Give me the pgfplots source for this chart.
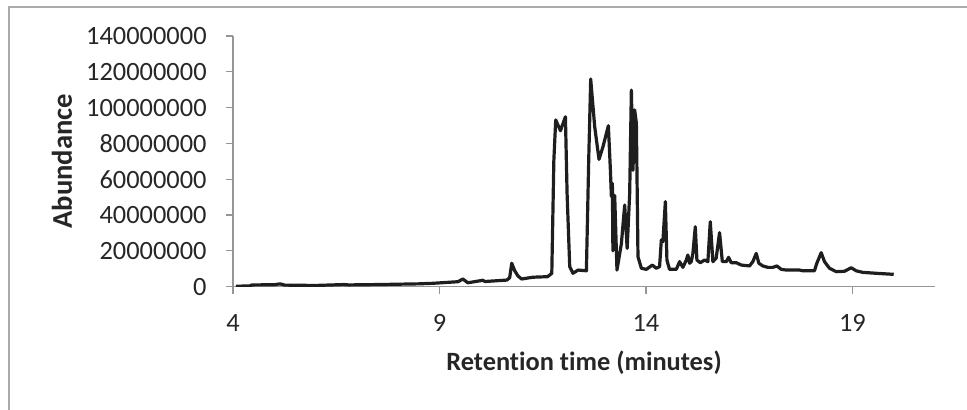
\documentclass[border=0pt]{standalone}
\usepackage{pgfplots}
\pgfplotsset{compat=1.18}
\usepackage{fontspec}
\setmainfont{Carlito}[Ligatures={NoCommon}]
\definecolor{axisgray}{RGB}{150,150,150}
\definecolor{framegray}{RGB}{170,170,170}
\definecolor{curve}{RGB}{30,30,30}
\begin{document}
\begin{tikzpicture}
\useasboundingbox (-116.5pt,-61.15pt) rectangle (367pt,143.35pt);
\draw[framegray, line width=0.8pt] (-112pt,-62pt) -- (-112pt,139.85pt) -- (368pt,139.85pt);
\begin{axis}[
  at={(0,0)}, anchor=south west,
  scale only axis, width=351pt, height=125.35pt,
  xmin=4, xmax=21, ymin=0, ymax=140e6,
  xtick={4,9,14,19},
  ytick={0,20e6,40e6,60e6,80e6,100e6,120e6,140e6},
  yticklabels={0,20000000,40000000,60000000,80000000,100000000,120000000,140000000},
  scaled y ticks=false,
  axis x line*=bottom, axis y line*=left,
  axis line style={draw=axisgray, line width=0.6pt, -},
  tick style={draw=axisgray, line width=0.6pt},
  tick align=outside, major tick length=3.5pt,
  /pgf/number format/assume math mode=true,
  ticklabel style={font=\fontsize{13.2}{15}\selectfont, text=black!85},
  yticklabel style={anchor=east, inner sep=0pt, xshift=-9.5pt},
  xticklabel style={anchor=north, inner sep=0pt, yshift=-10pt},
  every axis x label/.style={at={(axis description cs:0.5,-0.305)}, anchor=center, font=\fontsize{13.2}{15}\selectfont\bfseries},
  every axis y label/.style={at={(axis description cs:-0.2436,0.5)}, rotate=90, anchor=center, font=\fontsize{14.3}{16}\selectfont\bfseries},
  label style={text=black!85},
  xlabel={Retention time (minutes)},
  ylabel={Abundance},
]
\addplot[curve, line width=1.6pt, line join=round] table[row sep=\\] {
x y \\
4.07 0.3e6 \\
4.40 0.4e6 \\
4.46 1.0e6 \\
5.00 1.1e6 \\
5.14 1.6e6 \\
5.25 0.9e6 \\
6.00 0.7e6 \\
6.69 1.2e6 \\
6.80 1.0e6 \\
7.50 1.2e6 \\
8.00 1.4e6 \\
8.50 1.6e6 \\
8.84 1.9e6 \\
9.18 2.4e6 \\
9.45 2.8e6 \\
9.565 4.3e6 \\
9.686 2.2e6 \\
9.90 3.0e6 \\
10.05 3.6e6 \\
10.10 2.9e6 \\
10.63 3.7e6 \\
10.70 5.0e6 \\
10.75 13.1e6 \\
10.82 9.0e6 \\
10.90 6.0e6 \\
10.99 4.3e6 \\
11.26 5.3e6 \\
11.62 5.6e6 \\
11.72 7.5e6 \\
11.77 70.7e6 \\
11.815 93.1e6 \\
11.93 87.1e6 \\
12.05 94.9e6 \\
12.09 52.3e6 \\
12.154 11.2e6 \\
12.234 7.5e6 \\
12.355 9.3e6 \\
12.558 8.9e6 \\
12.614 70.7e6 \\
12.662 116.0e6 \\
12.759 89.3e6 \\
12.863 71.1e6 \\
12.96 78.2e6 \\
13.09 89.9e6 \\
13.139 65.2e6 \\
13.163 50.3e6 \\
13.187 57.7e6 \\
13.20 20.0e6 \\
13.243 51.0e6 \\
13.298 9.3e6 \\
13.405 24.0e6 \\
13.485 45.6e6 \\
13.545 21.4e6 \\
13.606 52.0e6 \\
13.647 109.8e6 \\
13.686 65.0e6 \\
13.727 98.7e6 \\
13.768 91.4e6 \\
13.807 16.75e6 \\
13.889 10.3e6 \\
14.01 9.7e6 \\
14.155 12.1e6 \\
14.25 10.3e6 \\
14.33 11.2e6 \\
14.373 26.1e6 \\
14.41 25.1e6 \\
14.47 47.5e6 \\
14.508 14.9e6 \\
14.57 9.7e6 \\
14.735 9.7e6 \\
14.815 14.0e6 \\
14.895 10.8e6 \\
14.977 14.9e6 \\
15.015 17.7e6 \\
15.057 13.1e6 \\
15.098 14.0e6 \\
15.137 18.6e6 \\
15.195 33.5e6 \\
15.234 14.9e6 \\
15.316 13.4e6 \\
15.42 14.9e6 \\
15.50 14.0e6 \\
15.558 36.3e6 \\
15.621 14.0e6 \\
15.70 15.9e6 \\
15.783 30.2e6 \\
15.85 14.0e6 \\
15.945 14.0e6 \\
16.001 16.4e6 \\
16.066 13.4e6 \\
16.187 13.4e6 \\
16.308 12.1e6 \\
16.509 11.6e6 \\
16.589 14.0e6 \\
16.671 18.6e6 \\
16.734 13.1e6 \\
16.831 11.6e6 \\
16.952 10.8e6 \\
17.073 10.8e6 \\
17.17 11.6e6 \\
17.276 9.7e6 \\
17.397 9.3e6 \\
17.72 9.3e6 \\
17.80 8.9e6 \\
18.08 8.9e6 \\
18.138 13.1e6 \\
18.244 19.0e6 \\
18.324 14.0e6 \\
18.445 10.3e6 \\
18.607 8.4e6 \\
18.808 8.6e6 \\
18.97 10.6e6 \\
19.09 8.9e6 \\
19.25 8.0e6 \\
19.575 7.5e6 \\
20.0 6.9e6 \\
};
\end{axis}
\end{tikzpicture}
\end{document}
